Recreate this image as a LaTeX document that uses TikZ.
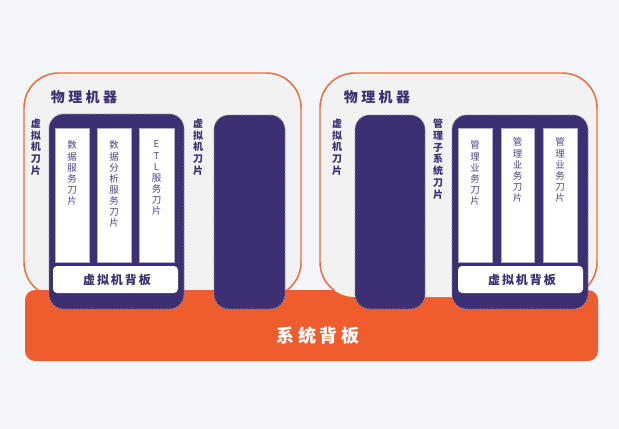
\documentclass[tikz,border=0pt]{standalone}
\usepackage{fontspec}
\setmainfont{Noto Sans CJK SC}
\definecolor{bgc}{HTML}{F5F6FB}
\definecolor{pmfill}{HTML}{F2F2F2}
\definecolor{pmline}{HTML}{EE6A3A}
\definecolor{boardc}{HTML}{ED5D2E}
\definecolor{deep}{HTML}{3C2F72}
\definecolor{soft}{HTML}{4E4386}
\definecolor{dashc}{HTML}{8A8A9A}
\newcommand\pbox[6]{\node[#6, minimum width={(#4-#2)*0.75pt}, minimum height={(#5-#3)*0.75pt}] (#1) at ({(#2+#4)/2},{(#3+#5)/2}) {};}
\tikzset{
  every node/.style={inner sep=0pt, outer sep=0pt},
  pmbox/.style={rectangle, rounded corners=26pt, fill=pmfill, draw=pmline, line width=1.1pt},
  pmfillonly/.style={rectangle, rounded corners=26pt, fill=pmfill},
  boardbox/.style={rectangle, rounded corners=7.5pt, fill=boardc},
  darkbox/.style={rectangle, rounded corners=11pt, fill=deep, draw=dashc, line width=0.6pt, dash pattern=on 1.5pt off 1pt},
  colbox/.style={rectangle, fill=white, draw=deep!40, line width=0.3pt},
  innerboard/.style={rectangle, rounded corners=3pt, fill=white},
  vlabel/.style={align=center, text=deep, font=\fontsize{7.5}{8.8}\selectfont\bfseries},
  coltext/.style={align=center, text=soft, anchor=north, font=\fontsize{7.1}{8.3}\selectfont},
  pmtitle/.style={text=deep, font=\fontsize{10.5}{12}\selectfont\bfseries\addfontfeature{LetterSpace=24}},
  ibtext/.style={text=deep, font=\fontsize{9}{10}\selectfont\bfseries\addfontfeature{LetterSpace=16}},
}
\begin{document}
\begin{tikzpicture}[x=0.75pt,y=-0.75pt]
\fill[bgc] (0,0) rectangle (619,429);
\useasboundingbox (0,0) rectangle (619,429);
% physical machines
\pbox{pmL}{24}{73}{301}{297}{pmbox}
\pbox{board}{25}{290}{598}{361}{boardbox}
\pbox{pmRfill}{320}{73}{597}{297}{pmfillonly}
\begin{scope}
\clip (300,60) rectangle (610,289);
\pbox{pmR}{320}{73}{597}{297}{pmbox}
\end{scope}
\node[text=white, font=\fontsize{13.5}{15}\selectfont\bfseries\addfontfeature{LetterSpace=22}] (boardtxt) at (318,336) {系统背板};
\node[pmtitle] (pmLt) at (84,97) {物理机器};
\node[pmtitle] (pmRt) at (377,97) {物理机器};
% dark blades
\pbox{vmL}{49}{114}{184}{309}{darkbox}
\pbox{bladeA}{214}{115}{285}{309}{darkbox}
\pbox{bladeB}{355}{115}{425}{309}{darkbox}
\pbox{vmR}{452}{115}{588}{309}{darkbox}
% vertical labels
\node[vlabel] (lab1) at (36,147) {虚\\拟\\机\\刀\\片};
\node[vlabel] (lab2) at (198,147) {虚\\拟\\机\\刀\\片};
\node[vlabel] (lab3) at (337,147) {虚\\拟\\机\\刀\\片};
\node[vlabel] (lab4) at (438,159) {管\\理\\子\\系\\统\\刀\\片};
% white columns left
\pbox{c1}{55}{128}{89}{262}{colbox}
\pbox{c2}{97}{128}{131}{262}{colbox}
\pbox{c3}{139}{128}{174}{262}{colbox}
\pbox{ibL}{53}{266}{178}{293}{innerboard}
\node[coltext] (t1) at (72,141) {数\\据\\服\\务\\刀\\片};
\node[coltext] (t2) at (114,141) {数\\据\\分\\析\\服\\务\\刀\\片};
\node[coltext] (t3) at (156.5,141) {E\\T\\L\\服\\务\\刀\\片};
\node[ibtext] (ibLt) at (117,280) {虚拟机背板};
% white columns right
\pbox{c4}{458}{128}{492}{262}{colbox}
\pbox{c5}{501}{128}{534}{262}{colbox}
\pbox{c6}{543}{128}{577}{262}{colbox}
\pbox{ibR}{458}{266}{583}{293}{innerboard}
\node[coltext] (t4) at (475,141) {管\\理\\业\\务\\刀\\片};
\node[coltext] (t5) at (517.5,138) {管\\理\\业\\务\\刀\\片};
\node[coltext] (t6) at (560,138) {管\\理\\业\\务\\刀\\片};
\node[ibtext] (ibRt) at (522,280) {虚拟机背板};
\end{tikzpicture}
\end{document}
